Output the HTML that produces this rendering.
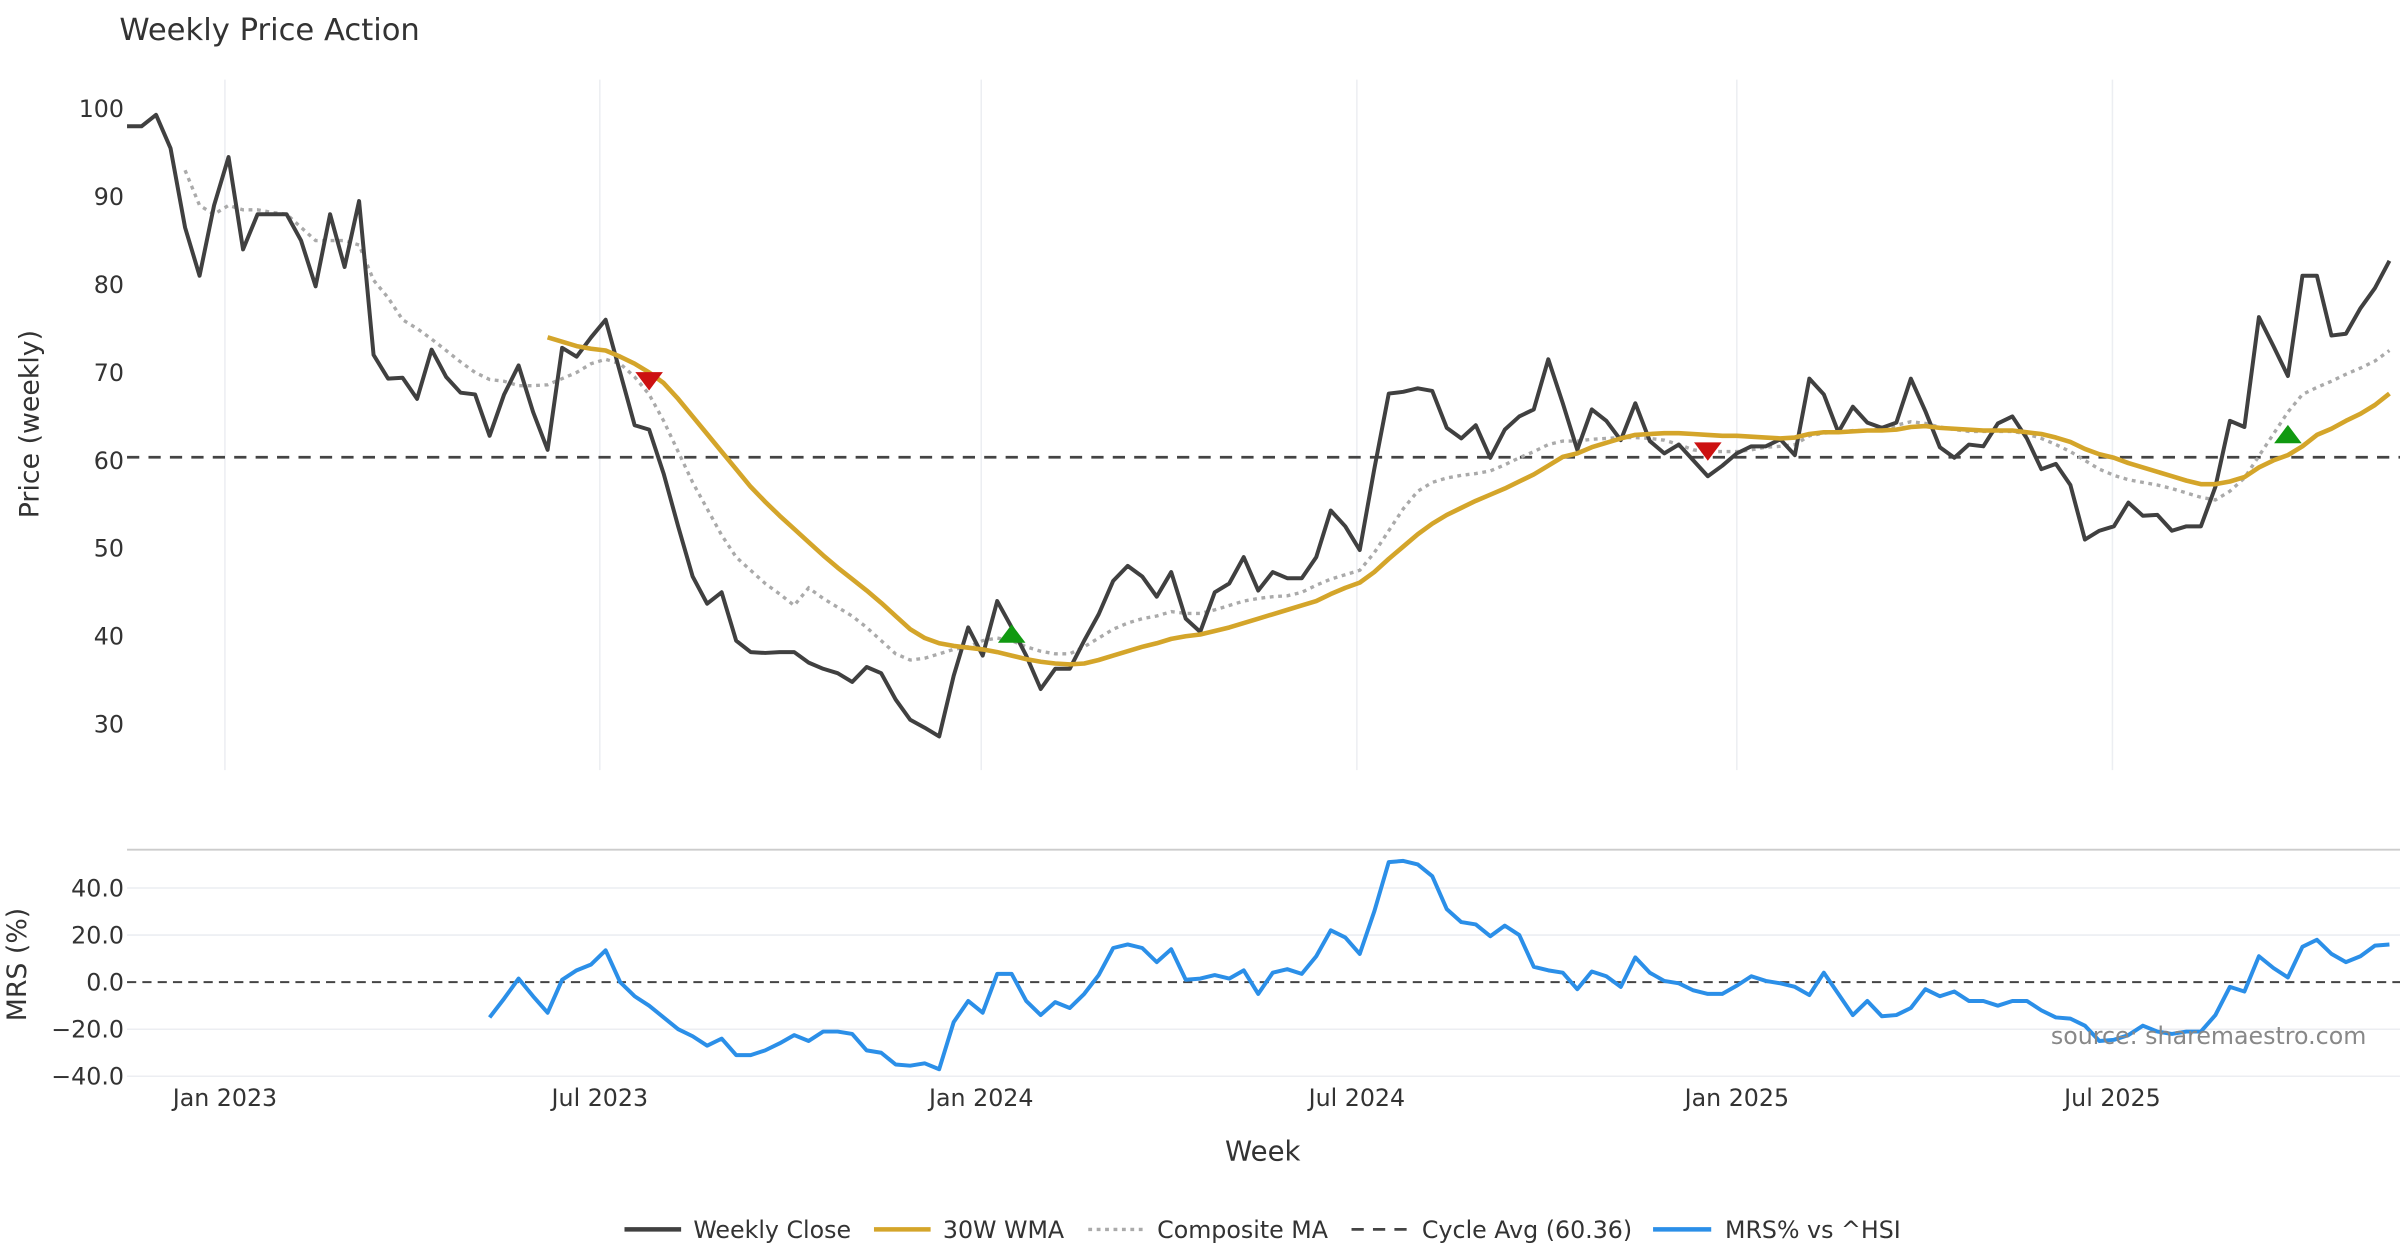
<!DOCTYPE html>
<html><head><meta charset="utf-8"><style>
html,body{margin:0;padding:0;background:#fff;}
svg{display:block;font-family:"DejaVu Sans","Liberation Sans",sans-serif;}
</style></head><body>
<svg id="chart" width="2400" height="1260" viewBox="0 0 1568 823" preserveAspectRatio="none" xmlns="http://www.w3.org/2000/svg">
<rect x="0" y="0" width="1568" height="823" fill="#fff"/>
<text x="78" y="26" font-size="20" fill="#333">Weekly Price Action</text>
<g id="grid"></g>
<g id="series"></g>
<g id="axes"></g>
<text transform="translate(25,277) rotate(-90)" text-anchor="middle" font-size="17.5" fill="#333">Price (weekly)</text>
<text transform="translate(17,630) rotate(-90)" text-anchor="middle" font-size="17.5" fill="#333">MRS (%)</text>
<text x="825" y="758" text-anchor="middle" font-size="18" fill="#333">Week</text>
<text x="1546" y="682" text-anchor="end" font-size="15.5" fill="#888">source: sharemaestro.com</text>
<g>
<g><line x1="408" y1="803" x2="445" y2="803" stroke="#404040" stroke-width="3"/><text x="453" y="808.5" font-size="15.5" fill="#333">Weekly Close</text></g>
<g><line x1="571" y1="803" x2="608" y2="803" stroke="#D4A52A" stroke-width="3"/><text x="616" y="808.5" font-size="15.5" fill="#333">30W WMA</text></g>
<g><line x1="711" y1="803" x2="747" y2="803" stroke="#aaa" stroke-width="2.2" stroke-dasharray="2.5,3"/><text x="756" y="808.5" font-size="15.5" fill="#333">Composite MA</text></g>
<g><line x1="883" y1="803" x2="920" y2="803" stroke="#444" stroke-width="1.8" stroke-dasharray="8,6"/><text x="929" y="808.5" font-size="15.5" fill="#333">Cycle Avg (60.36)</text></g>
<g><line x1="1080" y1="803" x2="1118" y2="803" stroke="#2B8FE8" stroke-width="3"/><text x="1127" y="808.5" font-size="15.5" fill="#333">MRS% vs ^HSI</text></g>
</g>
</svg>
<script>
const closeVals=[98,98,99.3,95.5,86.5,81,89,94.5,84,88,88,88,85,79.8,88,82,89.5,72,69.3,69.4,67,72.6,69.5,67.7,67.5,62.8,67.5,70.8,65.5,61.2,72.8,71.8,74,76,70,64,63.5,58.5,52.5,46.8,43.7,45,39.5,38.2,38.1,38.2,38.2,37,36.3,35.8,34.8,36.5,35.8,32.8,30.5,29.6,28.6,35.5,41,37.8,44,41,37.8,34,36.3,36.3,39.5,42.5,46.3,48,46.8,44.5,47.3,42,40.5,45,46,49,45.2,47.3,46.6,46.6,49,54.3,52.5,49.8,59,67.6,67.8,68.2,67.9,63.7,62.5,64,60.3,63.5,65,65.8,71.5,66.5,61.2,65.8,64.5,62.3,66.5,62.2,60.8,61.8,60,58.2,59.4,60.8,61.6,61.6,62.4,60.6,69.3,67.5,63.2,66.1,64.3,63.7,64.3,69.3,65.6,61.5,60.3,61.8,61.6,64.2,65,62.5,59,59.6,57.2,51,52,52.5,55.2,53.7,53.8,52,52.5,52.5,57,64.5,63.8,76.3,73,69.6,81,81,74.2,74.4,77.3,79.6,82.7];
const wmaStart=29;
const wmaVals=[74,73.5,73,72.7,72.5,71.8,71,70,68.8,67,65,63,61,59,57,55.3,53.7,52.2,50.7,49.2,47.8,46.5,45.2,43.8,42.3,40.8,39.8,39.2,38.9,38.7,38.5,38.2,37.8,37.4,37.1,36.9,36.8,36.9,37.3,37.8,38.3,38.8,39.2,39.7,40,40.2,40.6,41,41.5,42,42.5,43,43.5,44,44.8,45.5,46.1,47.3,48.8,50.2,51.6,52.8,53.8,54.6,55.4,56.1,56.8,57.6,58.4,59.4,60.4,60.8,61.5,62,62.5,62.9,63,63.1,63.1,63,62.9,62.8,62.8,62.7,62.6,62.5,62.6,63,63.2,63.2,63.3,63.4,63.4,63.5,63.8,63.9,63.7,63.6,63.5,63.4,63.4,63.4,63.2,63,62.6,62.1,61.3,60.7,60.3,59.7,59.2,58.7,58.2,57.7,57.3,57.3,57.6,58.1,59.2,60,60.6,61.6,62.9,63.6,64.5,65.3,66.3,67.6];
const compStart=4;
const compVals=[93,89,88,89,88.5,88.5,88.2,88,86.5,85,85,85,84.5,80.5,78.5,76,75,73.8,72.5,71.2,70,69.2,69,68.5,68.5,68.6,69.3,70,71,71.5,71,69.5,67.5,64.5,61,57.5,54.5,51.5,49,47.5,46,44.8,43.5,45.5,44.3,43.3,42.3,41,39.5,38,37.3,37.5,38,38.5,38.8,39.5,39.8,39.5,38.8,38.3,38,38,38.8,39.8,40.8,41.5,42,42.3,42.8,42.6,42.6,43,43.5,44,44.3,44.5,44.6,45,45.8,46.5,47,47.5,49.5,52,54.5,56.5,57.5,58,58.3,58.5,58.8,59.5,60.3,61,61.8,62.2,62.2,62.4,62.5,62.6,62.6,62.5,62.3,61.8,61.2,61,61,61,61.2,61.5,61.6,61.8,62.8,63.1,63.2,63.4,63.4,63.6,64,64.4,64.2,63.8,63.5,63.3,63.3,63.3,63.3,63,62.5,61.8,61,60,59,58.3,57.8,57.5,57.2,56.8,56.3,55.8,55.5,56.5,58,60.5,63,65.5,67.5,68.3,69,69.8,70.5,71.3,72.5];
const mrsStart=25;
const mrsVals=[-15,-7,1.5,-6,-13,1,5,7.5,13.5,0,-6,-10,-15,-20,-23,-27,-24,-31,-31,-29,-26,-22.5,-25,-21,-21,-22,-29,-30,-35,-35.5,-34.5,-37,-17,-8,-13,3.5,3.5,-8,-14,-8.5,-11,-5,3,14.5,16,14.5,8.5,14,1,1.5,3,1.5,5,-5,4,5.5,3.5,11,22,19,12,30,51,51.5,50,45,31,25.5,24.5,19.5,24,20,6.5,5,4,-3,4.5,2.5,-2,10.5,4,0.5,-0.5,-3.5,-5,-5,-1.5,2.5,0.5,-0.5,-2,-5.5,4,-5,-14,-8,-14.5,-14,-11,-3,-6,-4,-8,-8,-10,-8,-8,-12,-15,-15.5,-18.5,-25,-24.5,-22.5,-18.5,-21,-22,-21,-21,-14,-2,-4,11,6,2,15,18,12,8.5,11,15.5,16];
const cycleAvg=60.36;
const sellIdx=[36,109];
const sellVals=[69,61];
const buyIdx=[61,149];
const buyVals=[40.3,63];
const priceTicks=[100,90,80,70,60,50,40,30];
const mrsTicks=[40,20,0,-20,-40];
const xTickLabels=["Jan 2023","Jul 2023","Jan 2024","Jul 2024","Jan 2025","Jul 2025"];
const xTickIdx=[6.75,32.6,58.9,84.8,111.0,136.9];

const NS="http://www.w3.org/2000/svg";
const X=i=>83+i*9.475;
const YP=v=>71+(100-v)*5.743;
const YM=v=>641.5-v*1.5375;
function mk(tag,attrs,parent){const e=document.createElementNS(NS,tag);for(const k in attrs)e.setAttribute(k,attrs[k]);parent.appendChild(e);return e;}
const grid=document.getElementById('grid'),ser=document.getElementById('series'),axes=document.getElementById('axes');

xTickIdx.forEach((t,k)=>{
  const g=mk('line',{x1:X(t),x2:X(t),y1:52,y2:503,stroke:'#eceef2','stroke-width':1},grid);
  
  
  const tx=mk('text',{x:X(t),y:722.5,'text-anchor':'middle','font-size':15.5,fill:'#333'},axes);
  tx.textContent=xTickLabels[k];
  
  
});
priceTicks.forEach(v=>{
  const tx=mk('text',{x:81,y:YP(v)+5.5,'text-anchor':'end','font-size':15.5,fill:'#333'},axes);
  tx.textContent=v;
  
  
});
mrsTicks.forEach(v=>{
  if(v!==0){const gl=mk('line',{x1:83,x2:1568,y1:YM(v),y2:YM(v),stroke:'#eceef2','stroke-width':1},grid);
  
  }
  const tx=mk('text',{x:81,y:YM(v)+5.5,'text-anchor':'end','font-size':15.5,fill:'#333'},axes);
  tx.textContent=(v<0?'\u2212'+(-v).toFixed(1):v.toFixed(1));
  
  
});
const sep=mk('line',{x1:83,x2:1568,y1:555,y2:555,stroke:'#ccc','stroke-width':1.2},grid);



const cyc=mk('line',{x1:83,x2:1568,y1:YP(cycleAvg),y2:YP(cycleAvg),stroke:'#444','stroke-width':1.8,'stroke-dasharray':'8,6'},ser);


const zero=mk('line',{x1:83,x2:1568,y1:YM(0),y2:YM(0),stroke:'#444','stroke-width':1.3,'stroke-dasharray':'6,4'},ser);



function pts(vals,start,Y){return vals.map((v,j)=>X(start+j).toFixed(2)+','+Y(v).toFixed(2)).join(' ');}
const comp=mk('polyline',{points:pts(compVals,compStart,YP),fill:'none',stroke:'#aaa','stroke-width':2.2,'stroke-dasharray':'2.5,3'},ser);


const cl=mk('polyline',{points:pts(closeVals,0,YP),fill:'none',stroke:'#404040','stroke-width':2.6,'stroke-linejoin':'round'},ser);


const wma=mk('polyline',{points:pts(wmaVals,wmaStart,YP),fill:'none',stroke:'#D4A52A','stroke-width':3,'stroke-linejoin':'round'},ser);


const mrs=mk('polyline',{points:pts(mrsVals,mrsStart,YM),fill:'none',stroke:'#2B8FE8','stroke-width':2.6,'stroke-linejoin':'round'},ser);



sellIdx.forEach((ix,k)=>{
  const x=X(ix),y=YP(sellVals[k]);
  const p=mk('polygon',{points:`${x-9},${y-6} ${x+9},${y-6} ${x},${y+6}`,fill:'#CC1111'},ser);
  
  
});
buyIdx.forEach((ix,k)=>{
  const x=X(ix),y=YP(buyVals[k]);
  const p=mk('polygon',{points:`${x-9},${y+6} ${x+9},${y+6} ${x},${y-6}`,fill:'#119911'},ser);
  
  
});
</script>
</body></html>
